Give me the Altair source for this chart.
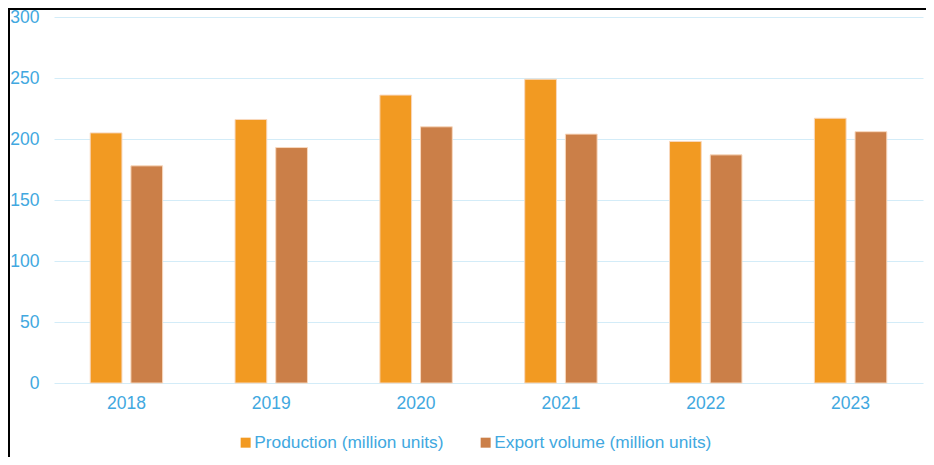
import altair as alt
import pandas as pd

years = ["2018", "2019", "2020", "2021", "2022", "2023"]
production = [205, 216, 236, 249, 198, 217]
export_volume = [178, 193, 210, 204, 187, 206]
series_names = ["Production (million units)", "Export volume (million units)"]
series_colors = ["#F29A22", "#CB7F48"]

rows = []
for i, y in enumerate(years):
    rows.append({"year": y, "series": series_names[0], "value": production[i]})
    rows.append({"year": y, "series": series_names[1], "value": export_volume[i]})
df = pd.DataFrame(rows)

FONT = "Liberation Sans"
LABEL = "#41A8E0"
GRID = "#D3ECF8"

bars = alt.Chart(df).mark_bar(stroke="#F8D8BE", strokeWidth=1).encode(
    x=alt.X("year:N", sort=years, title=None,
            scale=alt.Scale(paddingInner=0.5, paddingOuter=0.25),
            axis=alt.Axis(labelAngle=0, labelFontSize=17.5, labelColor=LABEL, labelFont=FONT,
                          ticks=False, domain=False, labelPadding=11, grid=False)),
    xOffset=alt.XOffset("series:N", sort=series_names,
                        scale=alt.Scale(paddingInner=0.22, paddingOuter=0)),
    y=alt.Y("value:Q", title=None,
            scale=alt.Scale(domain=[0, 300], nice=False),
            axis=alt.Axis(values=[0, 50, 100, 150, 200, 250, 300], labelFontSize=17.5,
                          labelColor=LABEL, labelFont=FONT, ticks=False, domain=False,
                          labelPadding=15, gridColor=GRID, gridWidth=1)),
    color=alt.Color("series:N", sort=series_names,
                    scale=alt.Scale(domain=series_names, range=series_colors),
                    legend=alt.Legend(title=None, orient="none", legendX=183, legendY=417,
                                      direction="horizontal", symbolType="square",
                                      symbolSize=100, symbolStrokeWidth=0,
                                      labelFontSize=17.3, labelFont=FONT, labelColor=LABEL,
                                      labelOffset=0, columnPadding=33, labelLimit=0)),
)

one = pd.DataFrame({"a": [0]})
top_rule = alt.Chart(one).mark_rule(color="black", strokeWidth=2).encode(
    x=alt.value(-46), x2=alt.value(875), y=alt.value(-8))
left_rule = alt.Chart(one).mark_rule(color="black", strokeWidth=2).encode(
    x=alt.value(-45), y=alt.value(-9), y2=alt.value(450))

chart = alt.layer(bars, top_rule, left_rule).properties(
    width=869, height=366,
    background="white",
    autosize=alt.AutoSizeParams(type="none"),
    padding={"left": 46, "top": 9, "right": 3, "bottom": 74},
).configure_view(strokeWidth=0)

chart.save("out.html", embed_options={"renderer": "svg", "actions": False})
